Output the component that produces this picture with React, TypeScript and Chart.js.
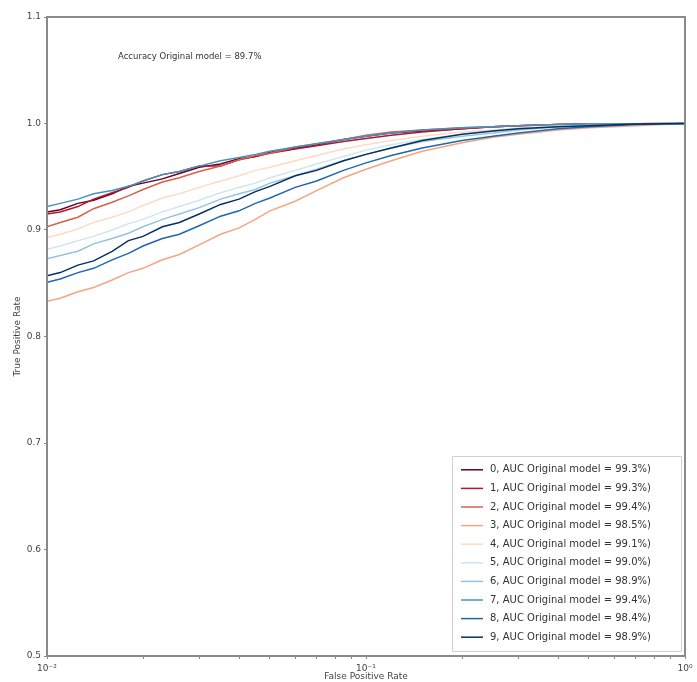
import React, { useEffect, useRef } from "react";
import { Chart, registerables } from "chart.js";

Chart.register(...registerables);

const FPR = [0.01, 0.011, 0.0125, 0.014, 0.016, 0.018, 0.02, 0.023, 0.026, 0.03, 0.035, 0.04, 0.045, 0.05, 0.06, 0.07, 0.085, 0.1, 0.12, 0.15, 0.2, 0.25, 0.3, 0.4, 0.5, 0.7, 1.0];

const TPR_0 = [0.917, 0.919, 0.925, 0.928, 0.934, 0.941, 0.944, 0.948, 0.953, 0.959, 0.962, 0.967, 0.969, 0.973, 0.977, 0.98, 0.985, 0.988, 0.991, 0.993, 0.995, 0.997, 0.998, 0.999, 0.9993, 0.9997, 1];
const TPR_1 = [0.915, 0.917, 0.922, 0.929, 0.935, 0.940, 0.946, 0.952, 0.955, 0.96, 0.96, 0.966, 0.969, 0.972, 0.976, 0.979, 0.983, 0.986, 0.989, 0.992, 0.995, 0.997, 0.998, 0.999, 0.9995, 0.9998, 1];
const TPR_2 = [0.903, 0.907, 0.912, 0.92, 0.926, 0.932, 0.938, 0.945, 0.949, 0.955, 0.96, 0.966, 0.97, 0.972, 0.978, 0.981, 0.985, 0.989, 0.992, 0.994, 0.996, 0.997, 0.998, 0.999, 0.9995, 0.9998, 1];
const TPR_3 = [0.833, 0.836, 0.842, 0.846, 0.853, 0.86, 0.864, 0.872, 0.877, 0.886, 0.896, 0.902, 0.91, 0.918, 0.927, 0.937, 0.949, 0.957, 0.965, 0.974, 0.982, 0.987, 0.99, 0.994, 0.996, 0.998, 1];
const TPR_4 = [0.893, 0.896, 0.901, 0.907, 0.912, 0.917, 0.923, 0.93, 0.934, 0.94, 0.946, 0.951, 0.956, 0.959, 0.965, 0.97, 0.976, 0.98, 0.984, 0.988, 0.992, 0.994, 0.996, 0.998, 0.999, 0.9997, 1];
const TPR_5 = [0.882, 0.885, 0.89, 0.894, 0.9, 0.906, 0.91, 0.917, 0.922, 0.928, 0.935, 0.94, 0.944, 0.949, 0.956, 0.962, 0.969, 0.975, 0.98, 0.985, 0.99, 0.993, 0.995, 0.997, 0.998, 0.9995, 1];
const TPR_6 = [0.873, 0.876, 0.88, 0.887, 0.892, 0.897, 0.903, 0.91, 0.915, 0.921, 0.929, 0.934, 0.938, 0.944, 0.951, 0.957, 0.965, 0.971, 0.977, 0.983, 0.988, 0.991, 0.994, 0.997, 0.998, 0.9995, 1];
const TPR_7 = [0.922, 0.925, 0.929, 0.934, 0.937, 0.941, 0.946, 0.952, 0.955, 0.96, 0.965, 0.968, 0.971, 0.974, 0.978, 0.981, 0.985, 0.988, 0.991, 0.994, 0.996, 0.997, 0.998, 0.999, 0.9995, 0.9998, 1];
const TPR_8 = [0.851, 0.854, 0.86, 0.864, 0.872, 0.878, 0.885, 0.892, 0.896, 0.904, 0.913, 0.918, 0.925, 0.93, 0.94, 0.946, 0.956, 0.963, 0.97, 0.977, 0.984, 0.988, 0.991, 0.995, 0.997, 0.999, 1];
const TPR_9 = [0.857, 0.86, 0.867, 0.871, 0.88, 0.89, 0.894, 0.903, 0.907, 0.915, 0.924, 0.929, 0.936, 0.941, 0.951, 0.956, 0.965, 0.971, 0.977, 0.984, 0.99, 0.993, 0.995, 0.997, 0.998, 0.9995, 1];

const SERIES = [TPR_0, TPR_1, TPR_2, TPR_3, TPR_4, TPR_5, TPR_6, TPR_7, TPR_8, TPR_9];
const CLASSES = ["0", "1", "2", "3", "4", "5", "6", "7", "8", "9"];
const AUC = ["99.3", "99.3", "99.4", "98.5", "99.1", "99.0", "98.9", "99.4", "98.4", "98.9"];
const COLORS = ["#67001f", "#b2182b", "#d6604d", "#f4a582", "#fddbc7", "#d1e5f0", "#92c5de", "#4393c3", "#2166ac", "#053061"];
const ACCURACY_TEXT = "Accuracy Original model = 89.7%";
const X_TICKS = [0.01, 0.02, 0.03, 0.04, 0.05, 0.06, 0.07, 0.08, 0.09, 0.1, 0.2, 0.3, 0.4, 0.5, 0.6, 0.7, 0.8, 0.9, 1];
const X_LABELS: Record<string, string> = { "0.01": "10\u207B\u00B2", "0.1": "10\u207B\u00B9", "1": "10\u2070" };

const FONT = "'DejaVu Sans', sans-serif";

const framePlugin = {
  id: "frameAndLegend",
  afterDraw(chart: any) {
    const { ctx, chartArea } = chart;
    const { left, right, top, bottom } = chartArea;
    ctx.save();
    ctx.strokeStyle = "#8a8a8a";
    ctx.lineWidth = 2;
    ctx.strokeRect(left, top, right - left, bottom - top);

    ctx.fillStyle = "#333";
    ctx.font = `8.5px ${FONT}`;
    ctx.textBaseline = "middle";
    ctx.textAlign = "left";
    ctx.fillText(ACCURACY_TEXT, left + 71, top + 40);

    const rowH = 18.6;
    const boxW = 229;
    const boxH = rowH * CLASSES.length + 9;
    const bx = right - 4 - boxW;
    const by = bottom - 5 - boxH;
    ctx.fillStyle = "rgba(255,255,255,0.85)";
    ctx.strokeStyle = "#d0d0d0";
    ctx.lineWidth = 1;
    ctx.beginPath();
    ctx.rect(bx + 0.5, by + 0.5, boxW, boxH);
    ctx.fill();
    ctx.stroke();
    ctx.font = `10px ${FONT}`;
    CLASSES.forEach((c, i) => {
      const cy = by + 4.5 + rowH * (i + 0.5);
      ctx.strokeStyle = COLORS[i];
      ctx.lineWidth = 1.5;
      ctx.beginPath();
      ctx.moveTo(bx + 9, cy);
      ctx.lineTo(bx + 31, cy);
      ctx.stroke();
      ctx.fillStyle = "#333";
      ctx.fillText(`${c}, AUC Original model = ${AUC[i]}%)`, bx + 38, cy);
    });
    ctx.restore();
  },
};

export default function App() {
  const ref = useRef<HTMLCanvasElement>(null);
  useEffect(() => {
    if (!ref.current) return;
    const chart = new Chart(ref.current, {
      type: "line",
      data: {
        datasets: SERIES.map((s, i) => ({
          label: `${CLASSES[i]}, AUC Original model = ${AUC[i]}%)`,
          data: FPR.map((f, k) => ({ x: f, y: s[k] })),
          borderColor: COLORS[i],
          backgroundColor: COLORS[i],
          borderWidth: 1.5,
          pointRadius: 0,
          tension: 0,
          order: 9 - i,
        })),
      },
      options: {
        animation: false,
        responsive: false,
        layout: { padding: { left: 12, top: 17, right: 12, bottom: 0 } },
        plugins: { legend: { display: false }, tooltip: { enabled: false } },
        scales: {
          x: {
            type: "logarithmic",
            min: 0.01,
            max: 1,
            afterBuildTicks: (scale: any) => {
              scale.ticks = X_TICKS.map((v) => ({ value: v }));
            },
            afterFit: (scale: any) => {
              scale.height = 26;
            },
            ticks: {
              autoSkip: false,
              maxRotation: 0,
              color: "#444",
              font: { family: FONT, size: 9 },
              padding: 4,
              callback: (v: any) => X_LABELS[String(v)] ?? "",
            },
            grid: { drawOnChartArea: false, drawTicks: true, tickLength: 3, color: "#888" },
            border: { display: false },
            title: {
              display: true,
              text: "False Positive Rate",
              color: "#444",
              font: { family: FONT, size: 9 },
              padding: { top: 0, bottom: 0 },
            },
          },
          y: {
            type: "linear",
            min: 0.5,
            max: 1.1,
            afterFit: (scale: any) => {
              scale.width = 35;
            },
            ticks: {
              stepSize: 0.1,
              color: "#444",
              font: { family: FONT, size: 9 },
              padding: 3,
              callback: (v: any) => Number(v).toFixed(1),
            },
            grid: { drawOnChartArea: false, drawTicks: true, tickLength: 3, color: "#888" },
            border: { display: false },
            title: {
              display: true,
              text: "True Positive Rate",
              color: "#444",
              font: { family: FONT, size: 9 },
              padding: { top: 0, bottom: 0 },
            },
          },
        },
      },
      plugins: [framePlugin],
    });
    return () => chart.destroy();
  }, []);
  return (
    <div style={{ position: "fixed", left: 0, top: 0, width: 697, height: 682, background: "#fff" }}>
      <canvas ref={ref} width={697} height={682} style={{ width: 697, height: 682, display: "block" }} />
    </div>
  );
}
